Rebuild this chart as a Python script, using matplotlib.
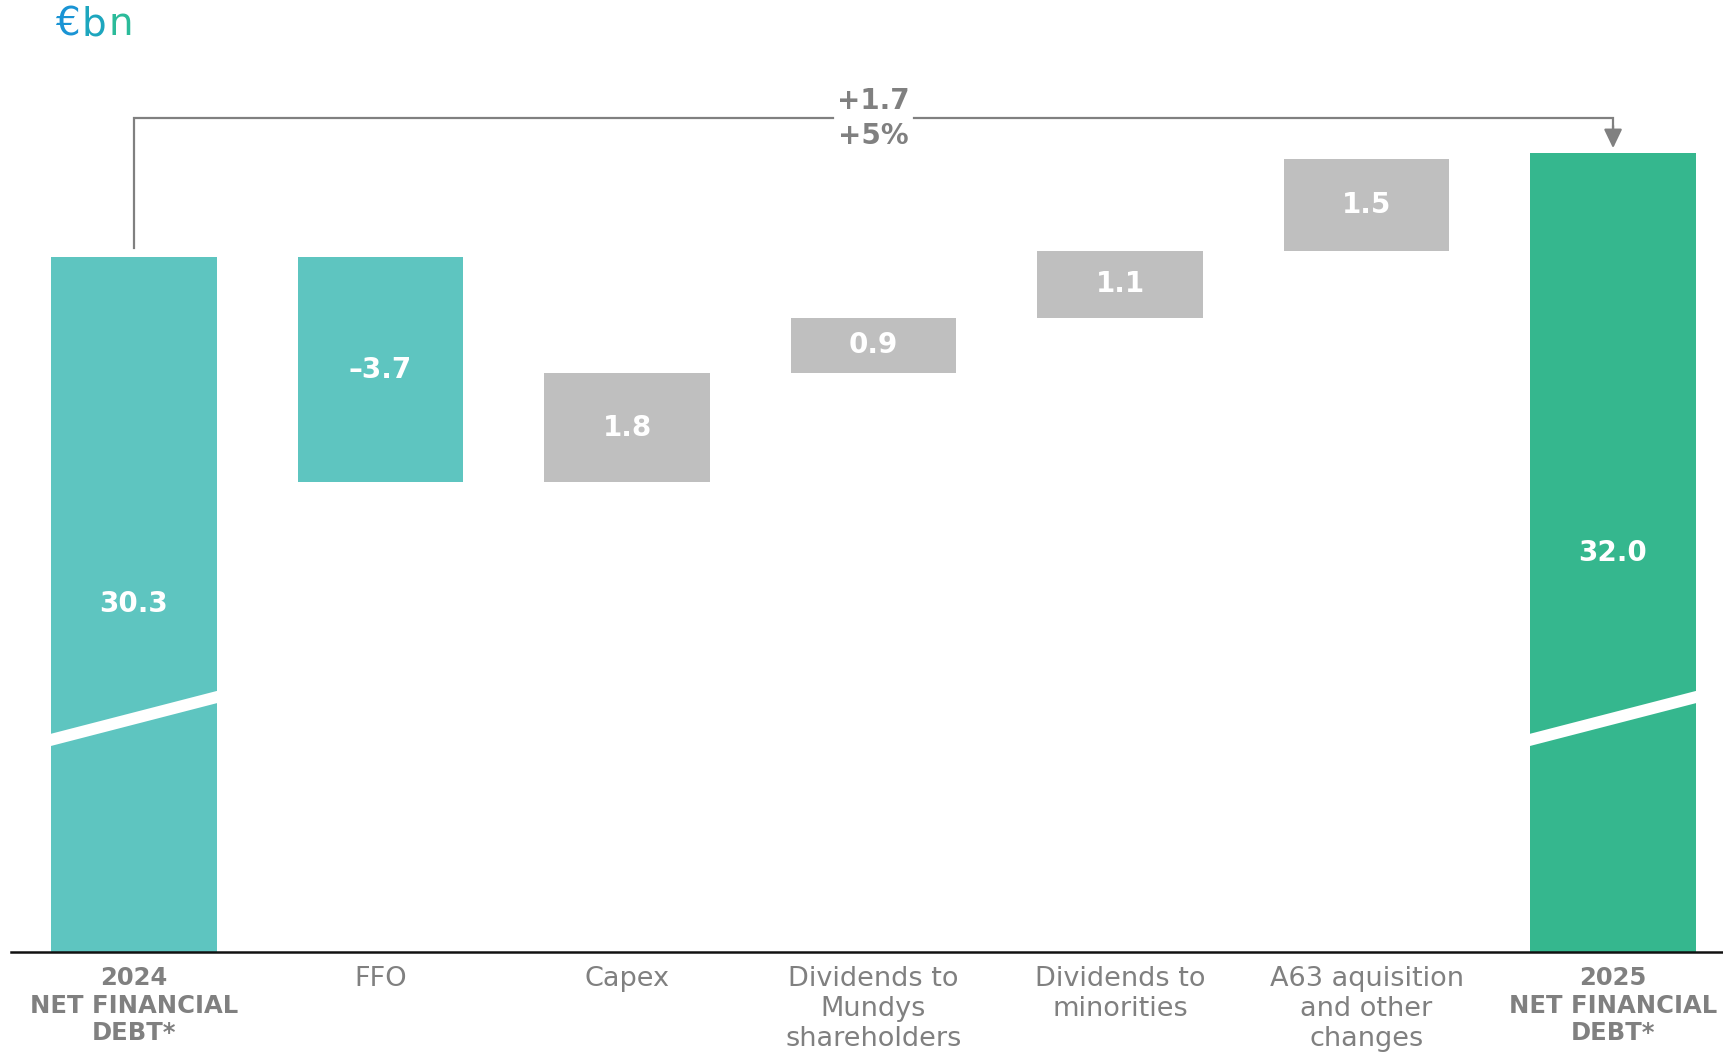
import numpy as np
import matplotlib as mpl
import matplotlib.pyplot as plt
from matplotlib.transforms import offset_copy

mpl.rcParams['font.family'] = ['DejaVu Sans']

# data
categories = ['2024\nNET FINANCIAL\nDEBT*', 'FFO', 'Capex',
              'Dividends to\nMundys\nshareholders', 'Dividends to\nminorities',
              'A63 aquisition\nand other\nchanges', '2025\nNET FINANCIAL\nDEBT*']
start_value = 30.3
deltas = [-3.7, 1.8, 0.9, 1.1, 1.5]
end_value = 32.0
delta_labels = ['\u20133.7', '1.8', '0.9', '1.1', '1.5']
change_abs = '+1.7'
change_pct = '+5%'

c_start = '#5EC5C0'
c_end = '#35B78E'
c_neg = '#5EC5C0'
c_pos = '#BFBFBF'
c_text = '#808080'

fig = plt.figure(figsize=(17.23, 10.52), dpi=100)
ax = fig.add_axes([11 / 1723, 100 / 1052, 1 - 11 / 1723, 952 / 1052])

x = np.arange(len(categories))
w = 0.67
ymin, ymax = 18.90, 34.51

# totals
ax.bar(x[0], start_value, width=w, color=c_start, zorder=2)
ax.bar(x[-1], end_value, width=w, color=c_end, zorder=2)

# floating deltas
level = start_value
for i, d in enumerate(deltas):
    lo = level + min(d, 0)
    ax.bar(x[i + 1], abs(d), bottom=lo, width=w,
           color=c_neg if d < 0 else c_pos, zorder=2)
    ax.text(x[i + 1], lo + abs(d) / 2, delta_labels[i], ha='center', va='center',
            color='white', fontsize=20, fontweight='bold', zorder=4)
    level += d

ax.text(x[0], (ymin + start_value) / 2, f'{start_value:.1f}', ha='center', va='center',
        color='white', fontsize=20, fontweight='bold', zorder=4)
ax.text(x[-1], (ymin + end_value) / 2, f'{end_value:.1f}', ha='center', va='center',
        color='white', fontsize=20, fontweight='bold', zorder=4)

# axis break bands
for xi in (x[0], x[-1]):
    bx = np.array([xi - w / 2 - 0.01, xi + w / 2 + 0.01])
    yc = np.interp(bx, [xi - w / 2, xi + w / 2], [22.38, 23.10])
    ax.fill_between(bx, yc - 0.1, yc + 0.1, color='white', zorder=3, lw=0)

# connector arrow
y_line = start_value + 2.27
gap = 0.165
mid = x[3]
ax.plot([x[0], x[0], mid - gap], [start_value + 0.15, y_line, y_line],
        color=c_text, lw=1.6, zorder=3, solid_joinstyle='miter')
ax.plot([mid + gap, x[-1], x[-1]], [y_line, y_line, end_value + 0.3],
        color=c_text, lw=1.6, zorder=3, solid_joinstyle='miter')
ax.annotate('', xy=(x[-1], end_value + 0.08), xytext=(x[-1], end_value + 0.45),
            arrowprops=dict(arrowstyle='-|>,head_width=0.55,head_length=1.15',
                            color=c_text, lw=1.6, shrinkA=0, shrinkB=0), zorder=3)
ax.text(mid, y_line + 0.06, change_abs, ha='center', va='bottom', color=c_text,
        fontsize=20, fontweight='bold')
ax.text(mid, y_line - 0.06, change_pct, ha='center', va='top', color=c_text,
        fontsize=20, fontweight='bold')

ax.set_xlim(-0.499, 6.446)
ax.set_ylim(ymin, ymax)
for s in ('top', 'right', 'left'):
    ax.spines[s].set_visible(False)
ax.spines['bottom'].set_linewidth(1.8)
ax.spines['bottom'].set_color('#111111')
ax.set_yticks([])
ax.set_xticks(x)
ax.set_xticklabels(categories, fontsize=19.5, color=c_text, linespacing=1.2, va='top')
ax.tick_params(axis='x', length=0, pad=10)
for i in (0, len(categories) - 1):
    lbl = ax.get_xticklabels()[i]
    lbl.set_fontweight('bold')
    lbl.set_fontsize(17.5)

# unit label, coloured letter by letter
renderer = fig.canvas.get_renderer()
tr = fig.transFigure
xoff = 0
for ch, col in (('\u20ac', '#1A94D4'), ('b', '#1DA6BE'), ('n', '#2BBB9A')):
    t = fig.text(55 / 1723, 1 - 35 / 1052, ch, color=col, fontsize=28,
                 va='baseline', ha='left',
                 transform=offset_copy(tr, fig=fig, x=xoff, y=0, units='dots'))
    xoff += t.get_window_extent(renderer).width + 2

fig.savefig('out.png', dpi=100, facecolor='white')
